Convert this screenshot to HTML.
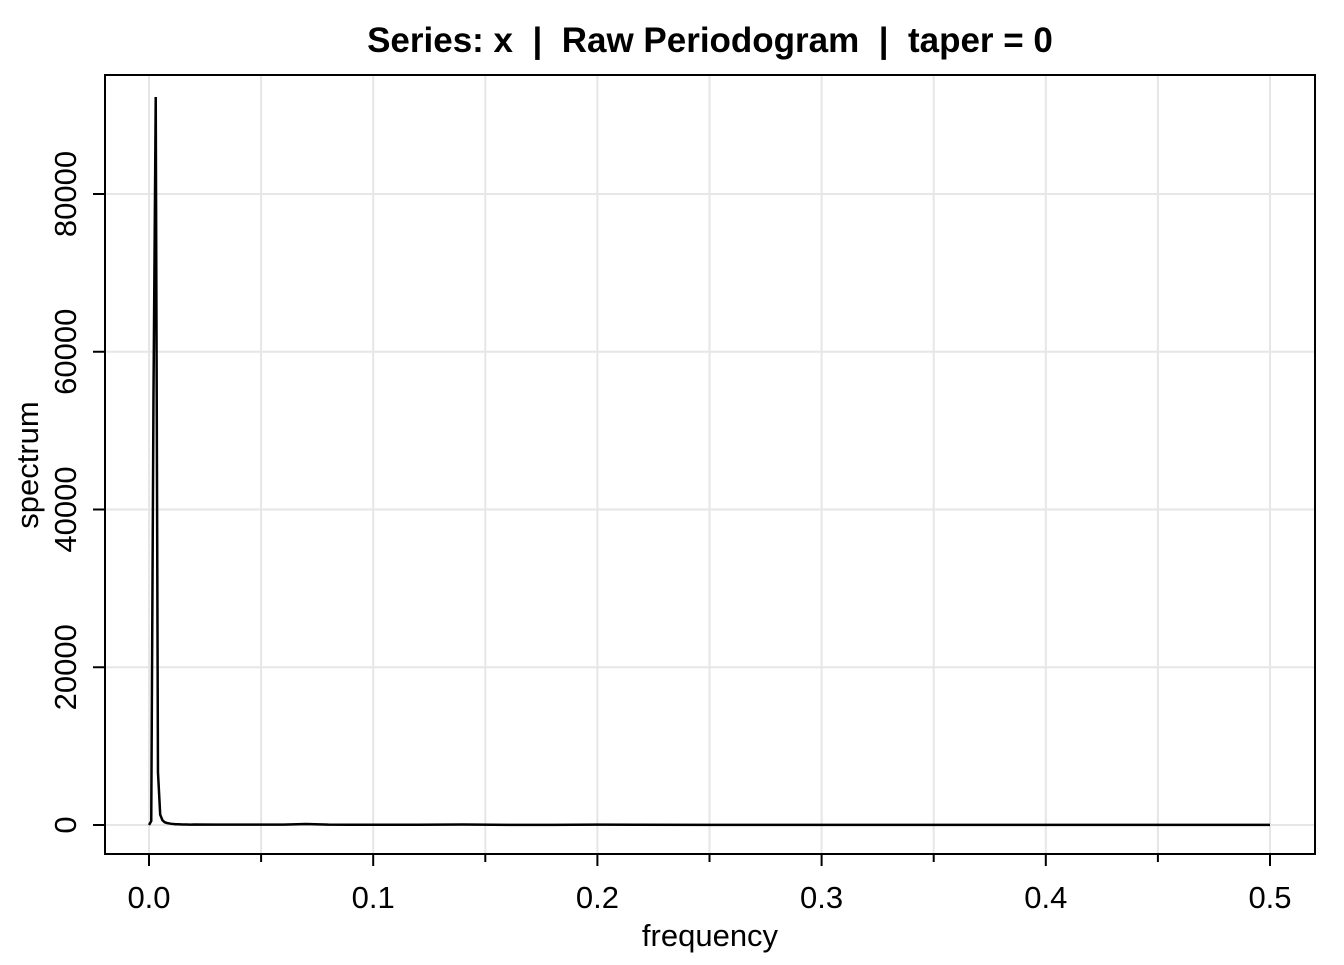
<!DOCTYPE html>
<html><head><meta charset="utf-8"><style>
body{margin:0;background:#fff;font-family:"Liberation Sans",Arial,sans-serif}
</style></head><body>
<svg id="chart" width="1344" height="960" xmlns="http://www.w3.org/2000/svg">
<text x="710" y="52" text-anchor="middle" font-size="35" font-weight="bold" xml:space="preserve">Series: x  |  Raw Periodogram  |  taper = 0</text>
<g id="grid"></g>
<g id="series"></g>
<rect x="105" y="75" width="1210" height="779" fill="none" stroke="#000" stroke-width="2"/>
<g id="axes"></g>
<text x="710" y="946" text-anchor="middle" font-size="31">frequency</text>
<text transform="translate(38,465) rotate(-90)" text-anchor="middle" font-size="31">spectrum</text>
</svg>
<script>
const xTicks=[0,0.1,0.2,0.3,0.4,0.5];
const xTickLabels=["0.0","0.1","0.2","0.3","0.4","0.5"];
const xMinorTicks=[0.05,0.15,0.25,0.35,0.45];
const yTicks=[0,20000,40000,60000,80000];
const yTickLabels=["0","20000","40000","60000","80000"];
const lowFreqStep=0.001;
const lowFreqVals=[0,500,54400,92300,6700,1300,600,350,250,200,150,120,100,90,80,70,60,60,50,50];
const tailFreqs=[0.02,0.03,0.04,0.05,0.06,0.07,0.08,0.09,0.1,0.12,0.14,0.16,0.18,0.2,0.25,0.3,0.35,0.4,0.45,0.5];
const tailVals=[60,50,50,40,40,120,40,30,30,25,60,20,20,40,15,12,10,10,8,8];
const X=v=>149+v*2242, Y=v=>825-v*631/80000;
const NS="http://www.w3.org/2000/svg";
function mk(t,a,p){const e=document.createElementNS(NS,t);for(const k in a)e.setAttribute(k,a[k]);p.appendChild(e);return e;}
const grid=document.getElementById('grid'),axes=document.getElementById('axes'),ser=document.getElementById('series');
xTicks.forEach((v,i)=>{
 const g=mk('line',{x1:X(v),x2:X(v),y1:75,y2:854,stroke:'#e6e6e6','stroke-width':2},grid);
 
 
 const t=mk('line',{x1:X(v),x2:X(v),y1:854,y2:866,stroke:'#000','stroke-width':2},axes);
 
 
 const l=mk('text',{x:X(v),y:908,'text-anchor':'middle','font-size':31},axes);l.textContent=xTickLabels[i];
 
 
});
xMinorTicks.forEach(v=>{
 const g=mk('line',{x1:X(v),x2:X(v),y1:75,y2:854,stroke:'#e6e6e6','stroke-width':2},grid);
 
 
 const t=mk('line',{x1:X(v),x2:X(v),y1:854,y2:862,stroke:'#000','stroke-width':2},axes);
 
 
});
yTicks.forEach((v,i)=>{
 const g=mk('line',{x1:105,x2:1315,y1:Y(v),y2:Y(v),stroke:'#e6e6e6','stroke-width':2},grid);
 
 
 const t=mk('line',{x1:93,x2:105,y1:Y(v),y2:Y(v),stroke:'#000','stroke-width':2},axes);
 
 
 const l=mk('text',{x:0,y:0,'text-anchor':'middle','font-size':31,transform:`translate(76,${Y(v)}) rotate(-90)`},axes);l.textContent=yTickLabels[i];
 
 
});
let pts=[];
lowFreqVals.forEach((v,i)=>pts.push([X(i*lowFreqStep),Y(v)]));
tailFreqs.forEach((f,i)=>pts.push([X(f),Y(tailVals[i])]));
const p=mk('polyline',{points:pts.map(q=>q.join(',')).join(' '),fill:'none',stroke:'#000','stroke-width':2.5},ser);


</script>
</body></html>
